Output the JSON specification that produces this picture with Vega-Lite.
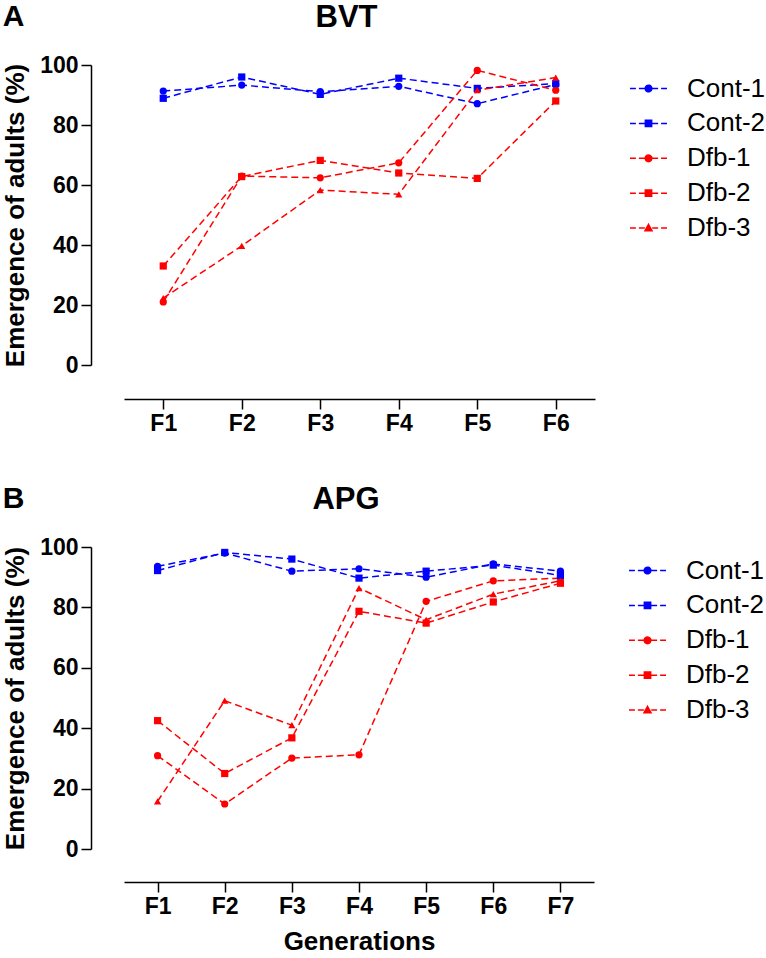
{
  "$schema": "https://vega.github.io/schema/vega-lite/v6.json",
  "padding": {"left": 2, "top": 2, "right": 0, "bottom": 0},
  "datasets": {
    "bvt": [
      {"gen": "F1", "line": "Cont-1", "value": 91.3}, {"gen": "F2", "line": "Cont-1", "value": 93.3}, {"gen": "F3", "line": "Cont-1", "value": 91.1}, {"gen": "F4", "line": "Cont-1", "value": 92.9}, {"gen": "F5", "line": "Cont-1", "value": 87.1}, {"gen": "F6", "line": "Cont-1", "value": 93.5},
      {"gen": "F1", "line": "Cont-2", "value": 88.9}, {"gen": "F2", "line": "Cont-2", "value": 96.0}, {"gen": "F3", "line": "Cont-2", "value": 90.2}, {"gen": "F4", "line": "Cont-2", "value": 95.6}, {"gen": "F5", "line": "Cont-2", "value": 92.2}, {"gen": "F6", "line": "Cont-2", "value": 93.8},
      {"gen": "F1", "line": "Dfb-1", "value": 21.0}, {"gen": "F2", "line": "Dfb-1", "value": 63.0}, {"gen": "F3", "line": "Dfb-1", "value": 62.4}, {"gen": "F4", "line": "Dfb-1", "value": 67.4}, {"gen": "F5", "line": "Dfb-1", "value": 98.2}, {"gen": "F6", "line": "Dfb-1", "value": 91.6},
      {"gen": "F1", "line": "Dfb-2", "value": 33.0}, {"gen": "F2", "line": "Dfb-2", "value": 62.8}, {"gen": "F3", "line": "Dfb-2", "value": 68.2}, {"gen": "F4", "line": "Dfb-2", "value": 64.0}, {"gen": "F5", "line": "Dfb-2", "value": 62.2}, {"gen": "F6", "line": "Dfb-2", "value": 88.0},
      {"gen": "F1", "line": "Dfb-3", "value": 22.3}, {"gen": "F2", "line": "Dfb-3", "value": 39.7}, {"gen": "F3", "line": "Dfb-3", "value": 58.3}, {"gen": "F4", "line": "Dfb-3", "value": 56.9}, {"gen": "F5", "line": "Dfb-3", "value": 91.6}, {"gen": "F6", "line": "Dfb-3", "value": 95.8}
    ],
    "apg": [
      {"gen": "F1", "line": "Cont-1", "value": 93.6}, {"gen": "F2", "line": "Cont-1", "value": 98.0}, {"gen": "F3", "line": "Cont-1", "value": 92.0}, {"gen": "F4", "line": "Cont-1", "value": 92.8}, {"gen": "F5", "line": "Cont-1", "value": 90.0}, {"gen": "F6", "line": "Cont-1", "value": 94.4}, {"gen": "F7", "line": "Cont-1", "value": 92.0},
      {"gen": "F1", "line": "Cont-2", "value": 92.2}, {"gen": "F2", "line": "Cont-2", "value": 98.2}, {"gen": "F3", "line": "Cont-2", "value": 96.0}, {"gen": "F4", "line": "Cont-2", "value": 89.7}, {"gen": "F5", "line": "Cont-2", "value": 92.0}, {"gen": "F6", "line": "Cont-2", "value": 94.0}, {"gen": "F7", "line": "Cont-2", "value": 90.6},
      {"gen": "F1", "line": "Dfb-1", "value": 30.9}, {"gen": "F2", "line": "Dfb-1", "value": 14.9}, {"gen": "F3", "line": "Dfb-1", "value": 30.1}, {"gen": "F4", "line": "Dfb-1", "value": 31.2}, {"gen": "F5", "line": "Dfb-1", "value": 82.0}, {"gen": "F6", "line": "Dfb-1", "value": 88.8}, {"gen": "F7", "line": "Dfb-1", "value": 89.7},
      {"gen": "F1", "line": "Dfb-2", "value": 42.5}, {"gen": "F2", "line": "Dfb-2", "value": 25.0}, {"gen": "F3", "line": "Dfb-2", "value": 36.8}, {"gen": "F4", "line": "Dfb-2", "value": 78.7}, {"gen": "F5", "line": "Dfb-2", "value": 74.8}, {"gen": "F6", "line": "Dfb-2", "value": 81.8}, {"gen": "F7", "line": "Dfb-2", "value": 88.0},
      {"gen": "F1", "line": "Dfb-3", "value": 15.8}, {"gen": "F2", "line": "Dfb-3", "value": 49.1}, {"gen": "F3", "line": "Dfb-3", "value": 41.0}, {"gen": "F4", "line": "Dfb-3", "value": 86.4}, {"gen": "F5", "line": "Dfb-3", "value": 75.9}, {"gen": "F6", "line": "Dfb-3", "value": 84.4}, {"gen": "F7", "line": "Dfb-3", "value": 88.8}
    ]
  },
  "config": {
    "font": "Liberation Sans",
    "view": {"stroke": null},
    "concat": {"spacing": 49},
    "axis": {
      "grid": false, "domainColor": "black", "domainWidth": 1.5, "tickColor": "black", "tickWidth": 1.5, "tickSize": 10,
      "labelFont": "Liberation Sans", "labelFontWeight": "bold", "labelFontSize": 23, "labelColor": "black",
      "titleFont": "Liberation Sans", "titleFontWeight": "bold", "titleFontSize": 26, "titleColor": "black"
    },
    "title": {"font": "Liberation Sans", "fontSize": 31, "fontWeight": "bold", "color": "black"},
    "legend": {
      "labelFont": "Liberation Sans", "labelFontSize": 26, "labelColor": "black", "labelOffset": 19,
      "symbolSize": 1369, "rowPadding": 1.9, "offset": 30, "padding": 4, "labelLimit": 200, "symbolOpacity": 1
    }
  },
  "resolve": {"scale": {"x": "independent", "color": "independent"}, "legend": {"color": "independent"}},
  "vconcat": [
    {
      "title": {"text": "A", "anchor": "start", "frame": "bounds", "offset": -30, "fontSize": 30},
      "vconcat": [
        {
          "title": {"text": "BVT", "anchor": "middle", "frame": "group", "dx": -13, "offset": 20},
          "width": 471, "height": 300,
          "data": {"name": "bvt"},
          "encoding": {
            "x": {"field": "gen", "type": "ordinal", "scale": {"type": "point", "padding": 0.5}, "axis": {"title": null, "offset": 34, "labelAngle": 0, "labelPadding": 3}},
            "y": {"field": "value", "type": "quantitative", "scale": {"domain": [0, 100], "nice": false}, "axis": {"title": "Emergence of adults  (%)", "offset": 33, "values": [0, 20, 40, 60, 80, 100], "labelPadding": 3, "titlePadding": 11}},
            "color": {"field": "line", "type": "nominal", "scale": {"domain": ["Cont-1", "Cont-2", "Dfb-1", "Dfb-2", "Dfb-3"], "range": ["#0000ff", "#0000ff", "#ff0000", "#ff0000", "#ff0000"]},
              "legend": {"title": null, "encode": {"symbols": {"update": {
                "shape": {"signal": "datum.value === 'Dfb-3' ? 'M-1,0H-0.68M-0.52,0H-0.2M0.2,0H0.52M0.68,0H1M0,-0.2L0.19,0.14L-0.19,0.14Z' : (datum.value === 'Cont-2' || datum.value === 'Dfb-2') ? 'M-1,0H-0.68M-0.52,0H-0.2M0.2,0H0.52M0.68,0H1M-0.17,-0.17H0.17V0.17H-0.17Z' : 'M-1,0H-0.68M-0.52,0H-0.2M0.2,0H0.52M0.68,0H1M-0.18,0A0.18,0.18,0,1,1,0.18,0A0.18,0.18,0,1,1,-0.18,0Z'"},
                "fill": {"signal": "(datum.value === 'Cont-1' || datum.value === 'Cont-2') ? '#0000ff' : '#ff0000'"},
                "stroke": {"signal": "(datum.value === 'Cont-1' || datum.value === 'Cont-2') ? '#0000ff' : '#ff0000'"},
                "strokeWidth": {"value": 1.5},
                "strokeDash": {"value": [1, 0]},
                "opacity": {"value": 1},
                "fillOpacity": {"value": 1},
                "size": {"value": 1369}
              }}}}
            }
          },
          "layer": [
            {"mark": {"type": "line", "strokeDash": [7, 4], "strokeWidth": 1.5}},
            {"transform": [{"filter": {"field": "line", "oneOf": ["Cont-1", "Dfb-1"]}}], "mark": {"type": "point", "shape": "circle", "filled": true, "size": 52, "opacity": 1}},
            {"transform": [{"filter": {"field": "line", "oneOf": ["Cont-2", "Dfb-2"]}}], "mark": {"type": "point", "shape": "square", "filled": true, "size": 52, "opacity": 1}},
            {"transform": [{"filter": {"field": "line", "oneOf": ["Dfb-3"]}}], "mark": {"type": "point", "shape": "triangle-up", "filled": true, "size": 52, "opacity": 1}}
          ]
        }
      ]
    },
    {
      "title": {"text": "B", "anchor": "start", "frame": "bounds", "offset": -30, "fontSize": 30},
      "vconcat": [
        {
          "title": {"text": "APG", "anchor": "middle", "frame": "group", "dx": -13, "offset": 20},
          "width": 470, "height": 302,
          "data": {"name": "apg"},
          "encoding": {
            "x": {"field": "gen", "type": "ordinal", "scale": {"type": "point", "padding": 0.5}, "axis": {"title": "Generations", "offset": 33, "labelAngle": 0, "labelPadding": 3, "titlePadding": 10}},
            "y": {"field": "value", "type": "quantitative", "scale": {"domain": [0, 100], "nice": false}, "axis": {"title": "Emergence of adults  (%)", "offset": 33, "values": [0, 20, 40, 60, 80, 100], "labelPadding": 3, "titlePadding": 11}},
            "color": {"field": "line", "type": "nominal", "scale": {"domain": ["Cont-1", "Cont-2", "Dfb-1", "Dfb-2", "Dfb-3"], "range": ["#0000ff", "#0000ff", "#ff0000", "#ff0000", "#ff0000"]},
              "legend": {"title": null, "encode": {"symbols": {"update": {
                "shape": {"signal": "datum.value === 'Dfb-3' ? 'M-1,0H-0.68M-0.52,0H-0.2M0.2,0H0.52M0.68,0H1M0,-0.2L0.19,0.14L-0.19,0.14Z' : (datum.value === 'Cont-2' || datum.value === 'Dfb-2') ? 'M-1,0H-0.68M-0.52,0H-0.2M0.2,0H0.52M0.68,0H1M-0.17,-0.17H0.17V0.17H-0.17Z' : 'M-1,0H-0.68M-0.52,0H-0.2M0.2,0H0.52M0.68,0H1M-0.18,0A0.18,0.18,0,1,1,0.18,0A0.18,0.18,0,1,1,-0.18,0Z'"},
                "fill": {"signal": "(datum.value === 'Cont-1' || datum.value === 'Cont-2') ? '#0000ff' : '#ff0000'"},
                "stroke": {"signal": "(datum.value === 'Cont-1' || datum.value === 'Cont-2') ? '#0000ff' : '#ff0000'"},
                "strokeWidth": {"value": 1.5},
                "strokeDash": {"value": [1, 0]},
                "opacity": {"value": 1},
                "fillOpacity": {"value": 1},
                "size": {"value": 1369}
              }}}}
            }
          },
          "layer": [
            {"mark": {"type": "line", "strokeDash": [7, 4], "strokeWidth": 1.5}},
            {"transform": [{"filter": {"field": "line", "oneOf": ["Cont-1", "Dfb-1"]}}], "mark": {"type": "point", "shape": "circle", "filled": true, "size": 52, "opacity": 1}},
            {"transform": [{"filter": {"field": "line", "oneOf": ["Cont-2", "Dfb-2"]}}], "mark": {"type": "point", "shape": "square", "filled": true, "size": 52, "opacity": 1}},
            {"transform": [{"filter": {"field": "line", "oneOf": ["Dfb-3"]}}], "mark": {"type": "point", "shape": "triangle-up", "filled": true, "size": 52, "opacity": 1}}
          ]
        }
      ]
    }
  ]
}
